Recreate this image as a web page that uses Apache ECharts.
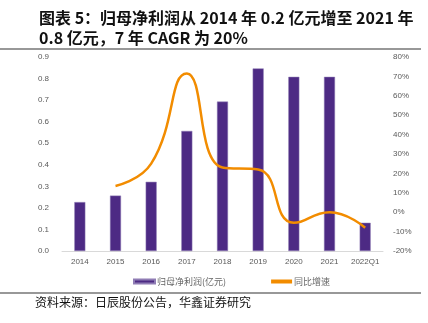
<!DOCTYPE html>
<html><head><meta charset="utf-8">
<script src="https://cdn.jsdelivr.net/npm/echarts@6/dist/echarts.min.js"></script>
<style>html,body{margin:0;padding:0;background:#fff}#c{width:428px;height:323px}</style>
</head><body><div id="c"></div>
<script>
var categories = ['2014','2015','2016','2017','2018','2019','2020','2021','2022Q1'];
var profit = [0.227, 0.257, 0.321, 0.557, 0.693, 0.847, 0.808, 0.808, 0.131];
var growth = [null, 13.5, 25, 71.5, 23, 22, -5.5, 0, -8];
var leftTicks = [0, 0.9, 0.1];
var rightTicks = [-20, 80, 10];
var titleText = '图表 5：归母净利润从 2014 年 0.2 亿元增至 2021 年\n0.8 亿元，7 年 CAGR 为 20%';
var sourceText = '资料来源：日辰股份公告，华鑫证券研究';
var barName = '归母净利润(亿元)';
var lineName = '同比增速';

var chart = echarts.init(document.getElementById('c'));
chart.setOption({
  animation: false,
  title: {
    text: titleText, left: 34, top: 3,
    textStyle: {fontFamily: 'Noto Sans CJK SC', fontSize: 16, fontWeight: 'bold', color: '#111', lineHeight: 20}
  },
  graphic: [
    {type: 'line', shape: {x1: 0, y1: 49, x2: 421, y2: 49}, style: {stroke: '#333', lineWidth: 1.2}},
    {type: 'line', shape: {x1: 0, y1: 293, x2: 421, y2: 293}, style: {stroke: '#333', lineWidth: 1.2}},
    {type: 'text', left: 35, top: 296, style: {text: sourceText, fontFamily: 'Noto Sans CJK SC', fontSize: 12, fill: '#111'}}
  ],
  legend: {
    top: 272, left: 128, itemGap: 45, itemWidth: 21, itemHeight: 4,
    textStyle: {fontSize: 9, color: '#666', fontFamily: 'Noto Sans CJK SC', padding: [0, 0, 0, -3]},
    data: [{name: barName, icon: 'rect'}, {name: lineName, icon: 'rect'}]
  },
  grid: {left: 62, right: 45, top: 57, bottom: 72},
  xAxis: {
    type: 'category', data: categories,
    axisLine: {lineStyle: {color: '#d9d9d9'}}, axisTick: {show: false},
    axisLabel: {color: '#595959', fontSize: 8, margin: 7, interval: 0}
  },
  yAxis: [
    {type: 'value', min: leftTicks[0], max: leftTicks[1], interval: leftTicks[2],
     splitLine: {show: false}, axisLine: {show: false}, axisTick: {show: false},
     axisLabel: {color: '#595959', fontSize: 8, margin: 13, formatter: function(v){return v.toFixed(1);}}},
    {type: 'value', min: rightTicks[0], max: rightTicks[1], interval: rightTicks[2],
     splitLine: {show: false}, axisLine: {show: false}, axisTick: {show: false},
     axisLabel: {color: '#595959', fontSize: 8, margin: 10, formatter: '{value}%'}}
  ],
  series: [
    {name: barName, type: 'bar', data: profit, barWidth: 11,
     itemStyle: {color: '#4D2A84', borderColor: '#8f7cb4', borderWidth: 0.5}},
    {name: lineName, type: 'line', yAxisIndex: 1, data: growth, smooth: 0.5,
     showSymbol: false, symbol: 'none', connectNulls: false,
     lineStyle: {color: '#F28C00', width: 2.5}, itemStyle: {color: '#F28C00'}}
  ]
});
</script></body></html>
